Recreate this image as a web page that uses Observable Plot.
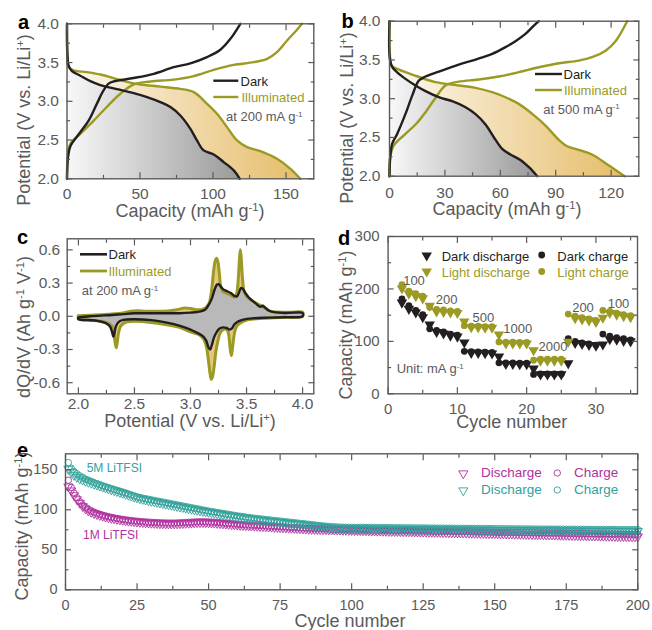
<!DOCTYPE html>
<html><head><meta charset="utf-8">
<script src="https://cdn.jsdelivr.net/npm/d3@7"></script>
<script src="https://cdn.jsdelivr.net/npm/@observablehq/plot@0.6"></script>
<style>
body{margin:0;background:#fff;}
#fig{position:relative;width:652px;height:630px;overflow:hidden;font-family:"Liberation Sans",Arial,sans-serif;background:#fff;}
#fig svg.panel{position:absolute;}
.t{position:absolute;white-space:nowrap;line-height:1;}
.t sup{font-size:0.62em;vertical-align:baseline;position:relative;top:-0.55em;line-height:0;}
</style></head><body><div id="fig"></div>
<script>
// ---------------- DATA ----------------
// panel a: [capacity mAh/g, potential V] at 200 mA/g
const aDarkDischarge = [[0,4.0],[0.2,3.656],[1.1,3.46],[3.4,3.39],[9.1,3.33],[16,3.26],[22.8,3.21],[34.2,3.157],[45.7,3.105],[54.8,3.054],[63.9,2.99],[70.8,2.925],[77.6,2.817],[84.5,2.645],[89,2.495],[93.6,2.366],[100.5,2.314],[107.3,2.215],[114.2,2.108],[118.3,2.0]];
const aDarkCharge = [[0,2.0],[0.7,2.28],[2.3,2.42],[9.1,2.6],[14.8,2.75],[20.5,2.97],[25,3.14],[28.5,3.228],[32,3.256],[45.7,3.3],[59.4,3.355],[73.1,3.44],[84.5,3.49],[95.9,3.57],[105,3.665],[111.9,3.806],[118.7,4.0]];
const aIllumDischarge = [[0,4.0],[0.2,3.61],[1.1,3.44],[4.6,3.4],[13.7,3.376],[22.8,3.346],[32,3.3],[41.1,3.25],[50.2,3.217],[63.9,3.19],[77.6,3.16],[86.8,3.118],[95.9,2.968],[102.7,2.839],[109.6,2.667],[116.4,2.495],[123.3,2.409],[132.4,2.357],[143.8,2.258],[153,2.129],[159.8,2.0]];
const aIllumCharge = [[0,2.0],[0.5,2.28],[2.3,2.45],[9.1,2.58],[18.3,2.75],[27.4,2.93],[36.5,3.097],[45.7,3.217],[57.1,3.256],[73.1,3.28],[86.8,3.325],[100.5,3.406],[114.2,3.47],[127.9,3.505],[137,3.548],[143.8,3.634],[150.7,3.785],[157.5,3.923],[160.9,4.0]];
// panel b: at 500 mA/g
const bDarkDischarge = [[0,4.0],[0.1,3.535],[1.44,3.41],[4.15,3.34],[8.66,3.256],[14.1,3.17],[19.5,3.097],[26.7,3.019],[33.9,2.968],[41.2,2.89],[46.6,2.8],[52,2.667],[56.5,2.503],[61,2.353],[65.5,2.28],[70.9,2.21],[75.5,2.116],[80,2.0]];
const bDarkCharge = [[0,2.0],[0.4,2.245],[1.44,2.417],[4.15,2.546],[8.66,2.804],[12.3,3.04],[15.9,3.234],[19.5,3.286],[26.7,3.35],[37.5,3.44],[46.6,3.505],[55.6,3.578],[62.8,3.665],[68.2,3.742],[73.6,3.837],[78.2,3.944],[80.9,4.0]];
const bIllumDischarge = [[0,4.0],[0.2,3.578],[1.1,3.43],[4.15,3.385],[12.3,3.312],[24.9,3.213],[37.5,3.17],[46.6,3.14],[55.6,3.084],[62.8,3.019],[70,2.933],[77.3,2.804],[84.5,2.654],[91.7,2.469],[96.2,2.387],[102.5,2.34],[109.7,2.28],[117,2.168],[127.3,2.0]];
const bIllumCharge = [[0,2.0],[0.4,2.245],[2.3,2.396],[8.66,2.546],[14.1,2.667],[19.5,2.826],[24.9,3.01],[30.3,3.17],[37.5,3.22],[48.4,3.247],[59.2,3.286],[70,3.342],[80.9,3.406],[91.7,3.458],[102.5,3.492],[109.7,3.535],[117,3.62],[122.4,3.742],[128.7,4.0]];
// panel c: [potential V, dQ/dV]
const cIllumCharge = [[2.0,0.006],[2.1,0.01],[2.2,0.015],[2.3,0.02],[2.4,0.03],[2.47,0.045],[2.52,0.05],[2.6,0.045],[2.7,0.045],[2.8,0.048],[2.88,0.06],[2.95,0.075],[3.0,0.07],[3.05,0.06],[3.1,0.06],[3.14,0.08],[3.17,0.13],[3.19,0.25],[3.205,0.4],[3.22,0.5],[3.232,0.525],[3.245,0.49],[3.258,0.38],[3.27,0.27],[3.29,0.225],[3.32,0.21],[3.36,0.19],[3.39,0.175],[3.41,0.2],[3.425,0.32],[3.437,0.52],[3.445,0.6],[3.453,0.52],[3.465,0.33],[3.48,0.22],[3.51,0.17],[3.55,0.14],[3.6,0.11],[3.64,0.09],[3.68,0.065],[3.72,0.045],[3.8,0.037],[3.9,0.036],[4.0,0.036]];
const cIllumDischarge = [[4.0,0.0],[3.8,-0.01],[3.65,-0.018],[3.52,-0.03],[3.46,-0.05],[3.42,-0.08],[3.4,-0.12],[3.385,-0.2],[3.373,-0.3],[3.365,-0.355],[3.355,-0.3],[3.345,-0.2],[3.335,-0.14],[3.315,-0.115],[3.29,-0.12],[3.265,-0.15],[3.245,-0.22],[3.225,-0.33],[3.21,-0.46],[3.195,-0.55],[3.185,-0.57],[3.175,-0.52],[3.16,-0.4],[3.145,-0.29],[3.125,-0.22],[3.1,-0.185],[3.06,-0.16],[3.0,-0.14],[2.9,-0.1],[2.8,-0.078],[2.65,-0.055],[2.5,-0.045],[2.42,-0.055],[2.38,-0.085],[2.36,-0.14],[2.348,-0.22],[2.338,-0.285],[2.328,-0.24],[2.318,-0.16],[2.305,-0.1],[2.28,-0.07],[2.2,-0.045],[2.1,-0.035],[2.0,-0.025]];
const cDarkCharge = [[2.0,-0.01],[2.1,0.0],[2.2,0.006],[2.3,0.012],[2.4,0.02],[2.5,0.027],[2.7,0.027],[2.9,0.028],[3.0,0.033],[3.08,0.042],[3.13,0.06],[3.16,0.1],[3.19,0.16],[3.215,0.24],[3.235,0.285],[3.25,0.29],[3.265,0.275],[3.29,0.245],[3.32,0.23],[3.36,0.21],[3.39,0.185],[3.415,0.18],[3.435,0.22],[3.45,0.255],[3.465,0.25],[3.49,0.21],[3.52,0.17],[3.56,0.135],[3.6,0.1],[3.625,0.085],[3.645,0.095],[3.665,0.08],[3.7,0.05],[3.76,0.035],[3.85,0.03],[4.0,0.03]];
const cDarkDischarge = [[4.0,0.0],[3.85,-0.008],[3.7,-0.012],[3.56,-0.018],[3.47,-0.03],[3.42,-0.05],[3.39,-0.075],[3.37,-0.11],[3.35,-0.12],[3.32,-0.105],[3.29,-0.1],[3.26,-0.11],[3.235,-0.14],[3.21,-0.19],[3.19,-0.26],[3.175,-0.3],[3.16,-0.28],[3.14,-0.22],[3.11,-0.18],[3.06,-0.15],[3.0,-0.12],[2.9,-0.085],[2.8,-0.06],[2.65,-0.035],[2.5,-0.027],[2.4,-0.032],[2.36,-0.05],[2.335,-0.09],[2.32,-0.16],[2.312,-0.185],[2.3,-0.14],[2.28,-0.09],[2.24,-0.06],[2.15,-0.038],[2.0,-0.025]];
// panel d: rate capability
const dCycles = [2,3,4,5,6,7,8,9,10,11,12,13,14,15,16,17,18,19,20,21,22,23,24,25,26,27,28,29,30,31,32,33,34,35];
const dDarkCharge = [181,168,159,151,124,121,118,114,112,81,80.5,80,79.5,79,59,59,59,58.5,58.5,37,38,38,38,38,105,100,97,95,93,114,110,107,105,103];
const dDarkDischarge = [174,162,155,146,132,118,115,111,109,98,78,78,77.5,77,71,57,57,56.5,56.5,48,37,37,37,37,58,97,95,93,92,94,104,103,101,100];
const dLightCharge = [208,196,191,186,165,161,160,158,157,130,129,129,128,128,99,98.5,98.5,98,98,64,66,66,66,66,152,148,145,143,140,159,157,154,151,149];
const dLightDischarge = [201,191,186,182,168,157,156,155,154,138,127,127,126,126,113,96,96,96,96,83,63,63,63,63,99,144,142,140,137,145,154,151,148,146];
const dRates = ["100","200","500","1000","2000","200","100"];
// panel e: long cycling, cycles 1..200
const e5MCharge = [159,152,148,145,142.5,140.5,138.5,137,135.5,134,
132.7,131.4,130.1,128.9,127.7,126.6,125.5,124.4,123.3,122.2,
121,119.8,118.6,117.4,116.2,115.4,114.6,113.9,113.2,112.5,
111.8,111.1,110.4,109.7,109,108.3,107.6,106.9,106.2,105.5,
104.8,104.1,103.4,102.7,102,101.3,100.6,99.9,99.2,98.5,
97.9,97.3,96.7,96.1,95.5,94.9,94.3,93.7,93.1,92.5,
92,91.5,91,90.5,90,89.5,89.1,88.7,88.3,87.9,
87.5,87.1,86.7,86.3,85.9,85.5,85.1,84.7,84.3,83.9,
83.5,83.1,82.7,82.3,81.9,81.5,81.1,80.7,80.3,79.9,
79.6,79.3,79,78.8,78.6,78.4,78.3,78.2,78.1,78,
78,78,78.1,78.1,78,78,77.9,77.9,77.8,77.8,
77.8,77.7,77.7,77.7,77.6,77.6,77.6,77.5,77.5,77.5,
77.4,77.4,77.4,77.3,77.3,77.3,77.2,77.2,77.2,77.1,
77.1,77.1,77,77,77,76.9,76.9,76.9,76.8,76.8,
76.8,76.7,76.7,76.7,76.6,76.6,76.6,76.5,76.5,76.5,
76.4,76.4,76.4,76.3,76.3,76.3,76.2,76.2,76.2,76.1,
76.1,76.1,76,76,76,76,75.9,75.9,75.9,75.9,
75.8,75.8,75.8,75.8,75.7,75.7,75.7,75.7,75.6,75.6,
75.6,75.6,75.5,75.5,75.5,75.5,75.5,75.4,75.4,75.4,
75.4,75.4,75.3,75.3,75.3,75.3,75.3,75.2,75.2,75.2];
const e5MDischarge = [151,147,143.5,141,139,137.5,136,134.8,133.6,132.4,
131.2,130,128.8,127.6,126.4,125.3,124.2,123.1,122,121,
119.8,118.6,117.4,116.2,115.2,114.2,113.3,112.5,111.7,110.9,
110.2,109.5,108.8,108.1,107.4,106.7,106,105.3,104.6,103.9,
103.2,102.5,101.8,101.1,100.4,99.7,99,98.4,97.8,97.2,
96.6,96,95.4,94.8,94.2,93.6,93,92.4,91.8,91.2,
90.7,90.2,89.7,89.2,88.7,88.2,87.8,87.4,87,86.6,
86.2,85.8,85.4,85,84.6,84.2,83.8,83.4,83,82.6,
82.2,81.8,81.4,81,80.6,80.2,79.8,79.4,79,78.6,
78.2,77.9,77.6,77.4,77.2,77,76.9,76.8,76.7,76.6,
76.6,76.5,76.5,76.5,76.4,76.4,76.3,76.3,76.2,76.2,
76.2,76.1,76.1,76,76,76,75.9,75.9,75.8,75.8,
75.8,75.7,75.7,75.6,75.6,75.6,75.5,75.5,75.4,75.4,
75.4,75.3,75.3,75.2,75.2,75.2,75.1,75.1,75,75,
75,74.9,74.9,74.9,74.8,74.8,74.8,74.7,74.7,74.7,
74.6,74.6,74.6,74.5,74.5,74.5,74.4,74.4,74.4,74.3,
74.3,74.3,74.2,74.2,74.2,74.2,74.1,74.1,74.1,74.1,
74,74,74,74,73.9,73.9,73.9,73.9,73.8,73.8,
73.8,73.8,73.7,73.7,73.7,73.7,73.7,73.6,73.6,73.6,
73.6,73.6,73.5,73.5,73.5,73.5,73.5,73.4,73.4,73.4];
const e1MCharge = [137,128,121,115,110,106,103,100.5,98.5,97,
95.6,94.4,93.3,92.3,91.4,90.6,89.9,89.2,88.6,88,
87.5,87,86.6,86.2,85.8,85.5,85.2,84.9,84.6,84.4,
84.2,84,83.8,83.7,83.6,83.5,83.5,83.5,83.6,83.8,
84,84.2,84.4,84.6,84.8,85,85.1,85.1,85,84.9,
84.7,84.5,84.2,83.9,83.6,83.3,83,82.7,82.4,82.1,
81.8,81.5,81.3,81.1,80.9,80.7,80.5,80.3,80.1,79.9,
79.7,79.5,79.3,79.1,78.9,78.7,78.5,78.3,78.1,77.9,
77.7,77.5,77.3,77.1,76.9,76.7,76.6,76.5,76.4,76.3,
76.2,76.1,76,75.9,75.8,75.7,75.6,75.5,75.4,75.3,
75.2,75.2,75.1,75,75,74.9,74.9,74.8,74.7,74.7,
74.6,74.6,74.5,74.4,74.4,74.3,74.3,74.2,74.1,74.1,
74,74,73.9,73.8,73.8,73.7,73.7,73.6,73.5,73.5,
73.4,73.4,73.3,73.2,73.2,73.1,73.1,73,72.9,72.9,
72.8,72.8,72.7,72.6,72.6,72.5,72.5,72.4,72.3,72.3,
72.2,72.2,72.1,72,72,71.9,71.9,71.8,71.7,71.7,
71.6,71.6,71.5,71.4,71.4,71.3,71.3,71.2,71.1,71.1,
71,71,70.9,70.8,70.8,70.7,70.7,70.6,70.5,70.5,
70.4,70.4,70.3,70.2,70.2,70.1,70.1,70,69.9,69.9,
69.8,69.8,69.7,69.6,69.6,69.5,69.5,69.4,69.3,69.3];
const e1MDischarge = [129,124,118,113,108.5,104.5,101.5,99,97.2,95.8,
94.5,93.3,92.3,91.3,90.5,89.7,89,88.4,87.8,87.2,
86.7,86.2,85.8,85.4,85,84.7,84.4,84.1,83.8,83.6,
83.4,83.2,83,82.9,82.8,82.7,82.7,82.7,82.8,83,
83.2,83.4,83.6,83.8,84,84.2,84.3,84.3,84.2,84.1,
83.9,83.7,83.4,83.1,82.8,82.5,82.2,81.9,81.6,81.3,
81,80.7,80.5,80.3,80.1,79.9,79.7,79.5,79.3,79.1,
78.9,78.7,78.5,78.3,78.1,77.9,77.7,77.5,77.3,77.1,
76.9,76.7,76.5,76.3,76.1,75.9,75.8,75.7,75.6,75.5,
75.4,75.3,75.2,75.1,75,74.9,74.8,74.7,74.6,74.5,
74.4,74.3,74.2,74.1,74.1,74,73.9,73.8,73.7,73.7,
73.6,73.5,73.4,73.3,73.3,73.2,73.1,73,72.9,72.9,
72.8,72.7,72.6,72.5,72.5,72.4,72.3,72.2,72.1,72.1,
72,71.9,71.8,71.7,71.7,71.6,71.5,71.4,71.3,71.3,
71.2,71.1,71,70.9,70.9,70.8,70.7,70.6,70.5,70.5,
70.4,70.3,70.2,70.1,70.1,70,69.9,69.8,69.7,69.7,
69.6,69.5,69.4,69.3,69.3,69.2,69.1,69,68.9,68.9,
68.8,68.7,68.6,68.5,68.5,68.4,68.3,68.2,68.1,68.1,
68,67.9,67.8,67.7,67.7,67.6,67.5,67.4,67.3,67.3,
67.2,67.1,67,66.9,66.9,66.8,66.7,66.6,66.5,66.5];
// tick values
const aXTicks=[0,50,100,150], aXMinor=[25,75,125], vTicks=[2,2.5,3,3.5,4], vMinor=[2.25,2.75,3.25,3.75];
const bXTicks=[0,30,60,90,120], bXMinor=[15,45,75,105];
const cXTicks=[2,2.5,3,3.5,4], cXMinor=[2.25,2.75,3.25,3.75], cYTicks=[-0.6,-0.3,0,0.3,0.6], cYMinor=[-0.45,-0.15,0.15,0.45];
const dXTicks=[0,10,20,30], dXMinor=[5,15,25,35], dYTicks=[0,100,200,300], dYMinor=[50,150,250];
const eXTicks=[0,25,50,75,100,125,150,175,200], eXMinor=[12.5,37.5,62.5,87.5,112.5,137.5,162.5,187.5], eYTicks=[0,50,100,150], eYMinor=[25,75,125];

// ---------------- STYLE ----------------
const FONT = '"Liberation Sans", Arial, sans-serif';
const AXIS = "#5a5a5a", DARK = "#231f20", OLIVE = "#9b9a24", TEAL = "#32a19b", MAG = "#b0319f";
const fig = document.getElementById("fig");
const fmt1 = d => d.toFixed(1), fmt0 = d => String(d);
const X = d => d[0], Y = d => d[1];

function gradient(id, c0, c1) {
  return () => {
    const g = d3.create("svg:defs");
    const lg = g.append("linearGradient").attr("id", id).attr("x1", "0").attr("x2", "1").attr("y1", "0").attr("y2", "0");
    lg.append("stop").attr("offset", "0").attr("stop-color", c0);
    lg.append("stop").attr("offset", "1").attr("stop-color", c1);
    return g.node();
  };
}

function panel(c) {
  const [fx0, fy0, fx1, fy1] = c.frame;
  const ax = [];
  for (const anchor of ["bottom", "top"]) {
    ax.push(Plot.axisX(c.xm, {anchor, tickSize: -3.5, fill: "none", stroke: AXIS, strokeWidth: 1.2, label: null}));
    ax.push(Plot.axisX(c.xt, {anchor, tickSize: -6, fill: "none", stroke: AXIS, strokeWidth: 1.2, label: null}));
  }
  for (const anchor of ["left", "right"]) {
    ax.push(Plot.axisY(c.ym, {anchor, tickSize: -3.5, fill: "none", stroke: AXIS, strokeWidth: 1.2, label: null}));
    ax.push(Plot.axisY(c.yt, {anchor, tickSize: -6, fill: "none", stroke: AXIS, strokeWidth: 1.2, label: null}));
  }
  ax.push(Plot.axisX(c.xt, {anchor: "bottom", tickSize: 0, tickPadding: c.xPad, tickFormat: c.xFmt, fill: AXIS, fontSize: c.fs, label: null}));
  ax.push(Plot.axisY(c.yt, {anchor: "left", tickSize: 0, tickPadding: c.yPad, tickFormat: c.yFmt, fill: AXIS, fontSize: c.fs, label: null}));
  const svg = Plot.plot({
    width: c.width, height: c.height,
    marginLeft: fx0 - c.left, marginRight: c.left + c.width - fx1,
    marginTop: fy0 - c.top, marginBottom: c.top + c.height - fy1,
    x: {domain: c.xDomain}, y: {domain: c.yDomain},
    style: {fontFamily: FONT, fontSize: c.fs + "px", color: AXIS, background: "transparent", maxWidth: "none", overflow: "visible"},
    marks: [...c.marks, ...ax, Plot.frame({stroke: AXIS, strokeWidth: 1.4})]
  });
  svg.classList.add("panel");
  svg.style.left = c.left + "px"; svg.style.top = c.top + "px";
  fig.appendChild(svg);
}

function txt(x, y, html, o = {}) {
  const d = document.createElement("div");
  d.className = "t"; d.innerHTML = html;
  d.style.left = x + "px"; d.style.top = y + "px";
  d.style.fontSize = (o.size || 13) + "px"; d.style.color = o.color || AXIS;
  if (o.bold) d.style.fontWeight = "bold";
  const tx = o.anchor === "middle" ? "-50%" : o.anchor === "end" ? "-100%" : "0";
  d.style.transform = `translate(${tx},-50%)` + (o.rotate ? ` rotate(${o.rotate}deg)` : "");
  fig.appendChild(d);
}

const curve = "catmull-rom";
// ---------------- PANEL a ----------------
panel({left: 0, top: 0, width: 330, height: 215, frame: [66.5, 23.3, 313.3, 178.3],
  xDomain: [0, 169], yDomain: [2, 4], xt: aXTicks, xm: aXMinor, yt: vTicks, ym: vMinor,
  xFmt: fmt0, yFmt: fmt1, xPad: 9.5, yPad: 8, fs: 15.5,
  marks: [
    gradient("gGoldA", "#fdf9f0", "#e6bd6a"), gradient("gGrayA", "#f8f8f8", "#9a9a9a"),
    Plot.areaY(aIllumDischarge.slice(1), {x: X, y1: 2, y2: Y, fill: "url(#gGoldA)", curve}),
    Plot.areaY(aDarkDischarge.slice(1), {x: X, y1: 2, y2: Y, fill: "url(#gGrayA)", curve}),
    Plot.line(aIllumCharge, {x: X, y: Y, stroke: OLIVE, strokeWidth: 2.4, curve}),
    Plot.line(aIllumDischarge, {x: X, y: Y, stroke: OLIVE, strokeWidth: 2.4, curve}),
    Plot.line(aDarkCharge, {x: X, y: Y, stroke: DARK, strokeWidth: 2.4, curve}),
    Plot.line(aDarkDischarge, {x: X, y: Y, stroke: DARK, strokeWidth: 2.4, curve})
  ]});
// ---------------- PANEL b ----------------
panel({left: 330, top: 0, width: 322, height: 215, frame: [389, 20.7, 638.3, 175.7],
  xDomain: [0, 135], yDomain: [2, 4], xt: bXTicks, xm: bXMinor, yt: vTicks, ym: vMinor,
  xFmt: fmt0, yFmt: fmt1, xPad: 10.5, yPad: 9, fs: 15.5,
  marks: [
    gradient("gGoldB", "#fdf9f0", "#e6bd6a"), gradient("gGrayB", "#f8f8f8", "#9a9a9a"),
    Plot.areaY(bIllumDischarge.slice(1), {x: X, y1: 2, y2: Y, fill: "url(#gGoldB)", curve}),
    Plot.areaY(bDarkDischarge.slice(1), {x: X, y1: 2, y2: Y, fill: "url(#gGrayB)", curve}),
    Plot.line(bIllumCharge, {x: X, y: Y, stroke: OLIVE, strokeWidth: 2.4, curve}),
    Plot.line(bIllumDischarge, {x: X, y: Y, stroke: OLIVE, strokeWidth: 2.4, curve}),
    Plot.line(bDarkCharge, {x: X, y: Y, stroke: DARK, strokeWidth: 2.4, curve}),
    Plot.line(bDarkDischarge, {x: X, y: Y, stroke: DARK, strokeWidth: 2.4, curve})
  ]});
// ---------------- PANEL c ----------------
const cIllumLoop = [...cIllumCharge, ...cIllumDischarge, cIllumCharge[0]];
const cDarkLoop = [...cDarkCharge, ...cDarkDischarge, cDarkCharge[0]];
panel({left: 0, top: 215, width: 330, height: 215, frame: [66.7, 238.3, 313.3, 393.3],
  xDomain: [1.9, 4.1], yDomain: [-0.7, 0.7], xt: cXTicks, xm: cXMinor, yt: cYTicks, ym: cYMinor,
  xFmt: fmt1, yFmt: fmt1, xPad: 4.5, yPad: 7, fs: 15.5,
  marks: [
    Plot.line(cIllumLoop, {x: X, y: Y, fill: "#e8c67e", stroke: "none", curve}),
    Plot.line(cDarkLoop, {x: X, y: Y, fill: "#b9b9b9", stroke: "none", curve}),
    Plot.line(cIllumLoop, {x: X, y: Y, stroke: OLIVE, strokeWidth: 3, curve}),
    Plot.line(cDarkLoop, {x: X, y: Y, stroke: DARK, strokeWidth: 2.4, curve})
  ]});
// ---------------- PANEL d ----------------
const dRows = dCycles.map((c, i) => ({c, dd: dDarkDischarge[i], dc: dDarkCharge[i], ld: dLightDischarge[i], lc: dLightCharge[i]}));
panel({left: 330, top: 215, width: 322, height: 215, frame: [387.6, 236, 637, 393.3],
  xDomain: [0, 36], yDomain: [0, 300], xt: dXTicks, xm: dXMinor, yt: dYTicks, ym: dYMinor,
  xFmt: fmt0, yFmt: fmt0, xPad: 10, yPad: 8.5, fs: 15,
  marks: [
    Plot.dot(dRows, {x: "c", y: "dd", symbol: "triangle", rotate: 180, r: 3.9, fill: DARK, stroke: "none"}),
    Plot.dot(dRows, {x: "c", y: "dc", symbol: "circle", r: 3.4, fill: DARK, stroke: "none"}),
    Plot.dot(dRows, {x: "c", y: "ld", symbol: "triangle", rotate: 180, r: 3.9, fill: OLIVE, stroke: "none"}),
    Plot.dot(dRows, {x: "c", y: "lc", symbol: "circle", r: 3.4, fill: OLIVE, stroke: "none"})
  ]});
// ---------------- PANEL e ----------------
const eRows = e5MCharge.map((v, i) => ({c: i + 1, t5c: v, t5d: e5MDischarge[i], m1c: e1MCharge[i], m1d: e1MDischarge[i]}));
panel({left: 0, top: 430, width: 652, height: 200, frame: [65, 453.3, 637.3, 589.3],
  xDomain: [0, 200], yDomain: [0, 170], xt: eXTicks, xm: eXMinor, yt: eYTicks, ym: eYMinor,
  xFmt: fmt0, yFmt: fmt0, xPad: 10, yPad: 8, fs: 14.5,
  marks: [
    Plot.dot(eRows, {x: "c", y: "m1d", symbol: "triangle", rotate: 180, r: 3.4, fill: "none", stroke: MAG, strokeWidth: 0.9}),
    Plot.dot(eRows, {x: "c", y: "m1c", symbol: "circle", r: 3.2, fill: "none", stroke: MAG, strokeWidth: 0.9}),
    Plot.dot(eRows, {x: "c", y: "t5d", symbol: "triangle", rotate: 180, r: 3.4, fill: "none", stroke: TEAL, strokeWidth: 0.9}),
    Plot.dot(eRows, {x: "c", y: "t5c", symbol: "circle", r: 3.2, fill: "none", stroke: TEAL, strokeWidth: 0.9})
  ]});

// ---------------- legends glyphs ----------------
const ov = d3.select(fig).append("svg").attr("width", 652).attr("height", 630)
  .style("position", "absolute").style("left", "0px").style("top", "0px").style("pointer-events", "none");
function lg(x1, x2, y, color, w) { ov.append("line").attr("x1", x1).attr("x2", x2).attr("y1", y).attr("y2", y).attr("stroke", color).attr("stroke-width", w); }
function sym(type, x, y, size, fill, stroke) {
  ov.append("path").attr("d", d3.symbol(type === "tri" ? d3.symbolTriangle : d3.symbolCircle, size)())
    .attr("transform", `translate(${x},${y})` + (type === "tri" ? " rotate(180)" : ""))
    .attr("fill", fill).attr("stroke", stroke).attr("stroke-width", 0.9);
}
lg(213.3, 238.3, 80.7, DARK, 2.4); lg(213.3, 238.3, 97, OLIVE, 2.4);
lg(535, 562, 74, DARK, 2.4); lg(535, 562, 90, OLIVE, 2.4);
lg(80, 107, 254.3, DARK, 2.6); lg(80, 107, 271, OLIVE, 2.8);
sym("tri", 426.7, 255.5, 48, DARK, "none"); sym("circle", 541.7, 255, 36, DARK, "none");
sym("tri", 426.7, 271.5, 48, OLIVE, "none"); sym("circle", 541.7, 271.5, 36, OLIVE, "none");
sym("tri", 463.3, 473.5, 36, "none", MAG); sym("circle", 557.3, 473, 32, "none", MAG);
sym("tri", 463.3, 490.5, 36, "none", TEAL); sym("circle", 557.3, 490, 32, "none", TEAL);

// ---------------- texts ----------------
// panel letters
txt(23.5, 21.5, "a", {size: 20, bold: true, color: "#000", anchor: "middle"});
txt(347.5, 20.5, "b", {size: 20, bold: true, color: "#000", anchor: "middle"});
txt(22.5, 236.5, "c", {size: 20, bold: true, color: "#000", anchor: "middle"});
txt(344, 238, "d", {size: 20, bold: true, color: "#000", anchor: "middle"});
txt(22.5, 449.5, "e", {size: 20, bold: true, color: "#000", anchor: "middle"});
// axis titles
const capT = "Capacity (mAh g<sup>-1</sup>)", potT = "Potential (V vs. Li/Li<sup>+</sup>)";
txt(24, 120, potT, {size: 18, anchor: "middle", rotate: -90});
txt(347, 118, potT, {size: 18, anchor: "middle", rotate: -90});
txt(190, 210.8, capT, {size: 18, anchor: "middle"});
txt(507, 209.4, capT, {size: 18, anchor: "middle"});
txt(24, 327, "dQ/dV (Ah g<sup>-1</sup> V<sup>-1</sup>)", {size: 18, anchor: "middle", rotate: -90});
txt(190, 421, potT, {size: 18, anchor: "middle"});
txt(346, 325, capT, {size: 18, anchor: "middle", rotate: -90});
txt(511.7, 421.5, "Cycle number", {size: 18, anchor: "middle"});
txt(22, 526, capT, {size: 18, anchor: "middle", rotate: -90});
txt(350, 621, "Cycle number", {size: 18, anchor: "middle"});
// legends a, b, c
txt(240.5, 80.7, "Dark", {color: DARK}); txt(241.5, 97, "Illuminated", {color: OLIVE}); txt(226, 116, "at 200 mA g<sup>-1</sup>");
txt(563.5, 74, "Dark", {color: DARK}); txt(564, 90, "Illuminated", {color: OLIVE}); txt(543.3, 108.5, "at 500 mA g<sup>-1</sup>");
txt(108.5, 254.3, "Dark", {color: DARK}); txt(108.5, 271, "Illuminated", {color: OLIVE}); txt(81.7, 290, "at 200 mA g<sup>-1</sup>");
// legend d
txt(441.7, 255.5, "Dark discharge", {color: DARK}); txt(557.3, 255.5, "Dark charge", {color: DARK});
txt(441.7, 271.7, "Light discharge", {color: OLIVE}); txt(557.3, 271.7, "Light charge", {color: OLIVE});
// rate labels d
const dRatePos = [[414, 280], [446.7, 299], [483.3, 317.3], [517.7, 328.3], [553, 346], [583, 306.7], [618.5, 303]];
dRates.forEach((r, i) => txt(dRatePos[i][0], dRatePos[i][1], r, {anchor: "middle"}));
txt(396.7, 368.3, "Unit: mA g<sup>-1</sup>");
// legend e
txt(481, 473.3, "Discharge", {color: MAG, size: 13.5}); txt(574, 473.3, "Charge", {color: MAG, size: 13.5});
txt(481, 490, "Discharge", {color: TEAL, size: 13.5}); txt(574, 490, "Charge", {color: TEAL, size: 13.5});
txt(86.7, 468.3, "5M LiTFSI", {color: TEAL, size: 12});
txt(83, 535, "1M LiTFSI", {color: MAG, size: 12});
</script></body></html>
